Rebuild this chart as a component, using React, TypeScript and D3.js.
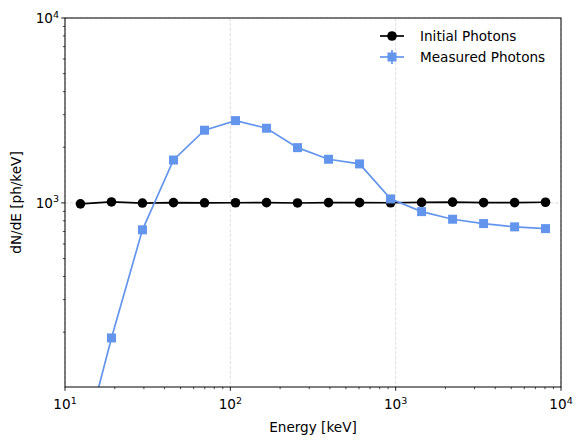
import React from "react";
import * as d3 from "d3";

const energies = [12.4, 19.1, 29.4, 45.3, 69.8, 107.5, 165.5, 254.9, 392.7, 604.8, 931.5, 1434.6, 2209.5, 3402.9, 5241.0, 8058.4];
const initialCounts = [988, 1012, 998, 1004, 1001, 1002, 1003, 999, 1004, 1003, 1002, 1006, 1010, 1004, 1004, 1008];
const measuredCounts = [42, 186, 715, 1706, 2472, 2786, 2534, 1990, 1722, 1625, 1051, 897, 816, 773, 742, 726];
const xMajor = [10, 100, 1000, 10000];
const yMajor = [1000, 10000];
const xExp = ["1", "2", "3", "4"];
const yExp = ["3", "4"];
const legendLabels = ["Initial Photons", "Measured Photons"];

const W = 583, H = 445;
const L = 65, R = 561, T = 18, B = 387;
const FONT = "DejaVu Sans, sans-serif";

export default function App() {
  const x = d3.scaleLog().domain([10, 10000]).range([L, R]);
  const y = d3.scaleLog().domain([101, 10000]).range([B, T]);

  const xMinor: number[] = [];
  for (let d = 10; d < 10000; d *= 10) for (let k = 2; k <= 9; k++) xMinor.push(d * k);
  const yMinor: number[] = [];
  for (let d = 100; d < 10000; d *= 10) for (let k = 1; k <= 9; k++) {
    const v = d * k;
    if (v >= 101 && !yMajor.includes(v)) yMinor.push(v);
  }

  const line = d3.line<number>().x((_, i) => x(energies[i])).y((v) => y(v));
  const blue = "#6495ED";
  const fs = 13.6;
  const lw = 1.7;
  const cr = 4.8;
  const sq = 9;

  return (
    <svg width={W} height={H} style={{ position: "absolute", left: 0, top: 0 }} fontFamily={FONT}>
      <rect width={W} height={H} fill="#fff" />
      <defs>
        <clipPath id="plot">
          <rect x={L} y={T} width={R - L} height={B - T} />
        </clipPath>
      </defs>
      {xMajor.map((v) => (
        <line key={"gx" + v} x1={x(v)} x2={x(v)} y1={T} y2={B} stroke="#b0b0b0" strokeOpacity={0.5} strokeWidth={0.8} strokeDasharray="3.4,1.5" />
      ))}
      {yMajor.map((v) => (
        <line key={"gy" + v} x1={L} x2={R} y1={y(v)} y2={y(v)} stroke="#b0b0b0" strokeOpacity={0.5} strokeWidth={0.8} strokeDasharray="3.4,1.5" />
      ))}
      <g clipPath="url(#plot)">
        <path d={line(initialCounts) || ""} fill="none" stroke="#000" strokeWidth={lw} />
        {initialCounts.map((v, i) => (
          <circle key={"c" + i} cx={x(energies[i])} cy={y(v)} r={cr} fill="#000" />
        ))}
        <path d={line(measuredCounts) || ""} fill="none" stroke={blue} strokeWidth={lw} />
        {measuredCounts.map((v, i) => (
          <rect key={"s" + i} x={x(energies[i]) - sq / 2} y={y(v) - sq / 2} width={sq} height={sq} fill={blue} />
        ))}
      </g>
      <rect x={L} y={T} width={R - L} height={B - T} fill="none" stroke="#000" strokeWidth={1} />
      {xMinor.map((v) => (
        <line key={"xm" + v} x1={x(v)} x2={x(v)} y1={B} y2={B + 2.2} stroke="#000" strokeWidth={0.7} />
      ))}
      {xMajor.map((v, i) => (
        <g key={"xt" + v}>
          <line x1={x(v)} x2={x(v)} y1={B} y2={B + 3.8} stroke="#000" strokeWidth={0.9} />
          <text x={x(v)} y={B + 22} textAnchor="middle" fontSize={fs} fill="#000">
            10<tspan fontSize={fs * 0.7} dy={-5.5}>{xExp[i]}</tspan>
          </text>
        </g>
      ))}
      {yMinor.map((v) => (
        <line key={"ym" + v} x1={L - 2.2} x2={L} y1={y(v)} y2={y(v)} stroke="#000" strokeWidth={0.7} />
      ))}
      {yMajor.map((v, i) => (
        <g key={"yt" + v}>
          <line x1={L - 3.8} x2={L} y1={y(v)} y2={y(v)} stroke="#000" strokeWidth={0.9} />
          <text x={L - 6} y={y(v) + 5} textAnchor="end" fontSize={fs} fill="#000">
            10<tspan fontSize={fs * 0.7} dy={-5.5}>{yExp[i]}</tspan>
          </text>
        </g>
      ))}
      <text x={(L + R) / 2} y={432} textAnchor="middle" fontSize={fs} fill="#000">Energy [keV]</text>
      <text transform={`translate(21,${(T + B) / 2}) rotate(-90)`} textAnchor="middle" fontSize={fs} fill="#000">dN/dE [ph/keV]</text>
      <g>
        <line x1={380} x2={404} y1={36} y2={36} stroke="#000" strokeWidth={lw} />
        <circle cx={392} cy={36} r={cr} fill="#000" />
        <text x={420} y={41} fontSize={fs} fill="#000">{legendLabels[0]}</text>
        <line x1={380} x2={404} y1={57} y2={57} stroke={blue} strokeWidth={lw} />
        <line x1={392} x2={392} y1={50} y2={64} stroke={blue} strokeWidth={lw} />
        <rect x={392 - sq / 2} y={57 - sq / 2} width={sq} height={sq} fill={blue} />
        <text x={420} y={62} fontSize={fs} fill="#000">{legendLabels[1]}</text>
      </g>
    </svg>
  );
}
